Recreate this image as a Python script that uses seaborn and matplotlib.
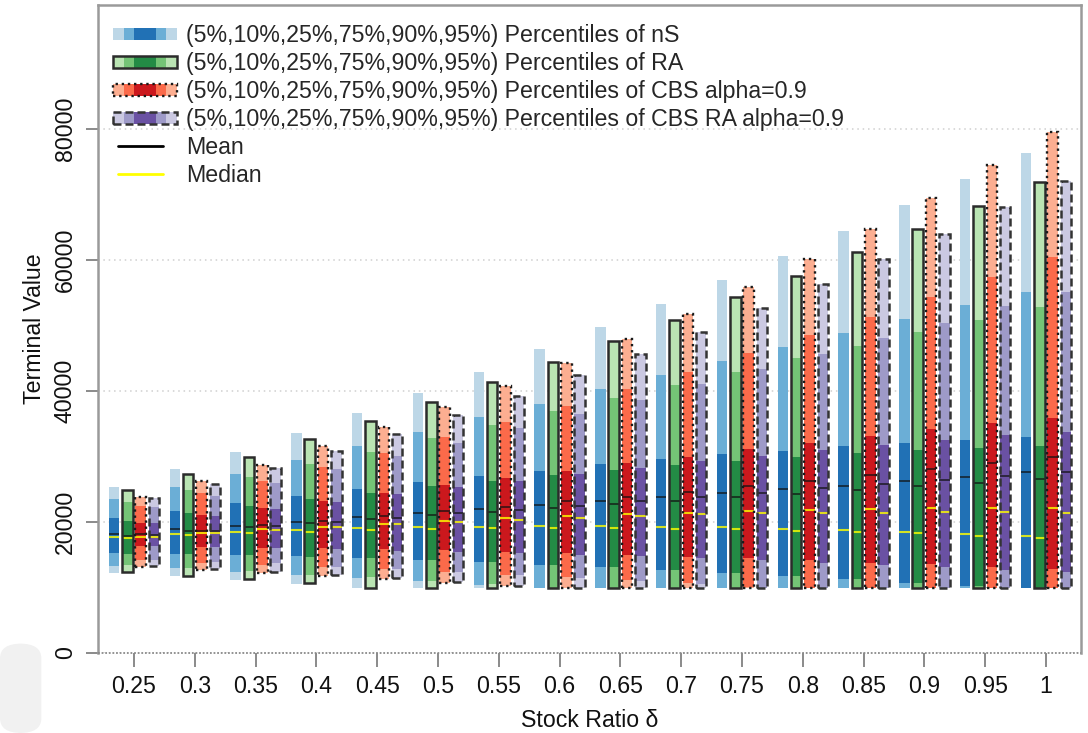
import numpy as np
import pandas as pd
import seaborn as sns
import matplotlib
matplotlib.use("Agg")
import matplotlib.pyplot as plt
from matplotlib.patches import Rectangle, FancyBboxPatch
from matplotlib.lines import Line2D
from matplotlib.legend_handler import HandlerBase

# ---------------------------------------------------------------- data
delta_labels = ["0.25", "0.3", "0.35", "0.4", "0.45", "0.5", "0.55", "0.6",
                "0.65", "0.7", "0.75", "0.8", "0.85", "0.9", "0.95", "1"]

# nS
ns_p95 = [25390, 28040, 30740, 33640, 36590, 39740, 42950, 46360, 49820, 53280, 56950, 60660, 64470, 68350, 72320, 76380]
ns_p90 = [23460, 25390, 27330, 29460, 31650, 33790, 35980, 38010, 40250, 42440, 44580, 46770, 48900, 50990, 53130, 55160]
ns_p75 = [20560, 21730, 22850, 23970, 25040, 26060, 27070, 27830, 28810, 29620, 30330, 30890, 31600, 32110, 32520, 33030]
ns_p25 = [15220, 15110, 14960, 14810, 14500, 14200, 13840, 13430, 13080, 12670, 12160, 11760, 11250, 10730, 10230, 10000]
ns_p10 = [13330, 12930, 12410, 11910, 11400, 10990, 10380, 10000, 10000, 10000, 10000, 10000, 10000, 10000, 10000, 10000]
ns_p5 = [12260, 11760, 11150, 10530, 10000, 10000, 10000, 10000, 10000, 10000, 10000, 10000, 10000, 10000, 10000, 10000]
ns_mean = [18120, 18880, 19440, 20050, 20710, 21420, 21930, 22550, 23210, 23770, 24380, 24990, 25540, 26260, 26920, 27590]
ns_median = [17760, 18120, 18470, 18780, 19030, 19290, 19290, 19390, 19390, 19290, 19190, 18980, 18730, 18520, 18170, 17910]

# RA
ra_p95 = [24840, 27280, 29870, 32620, 35470, 38370, 41420, 44470, 47630, 50840, 54300, 57600, 61170, 64730, 68240, 71860]
ra_p90 = [23000, 24880, 26820, 28810, 30730, 32870, 34810, 36950, 38880, 40920, 42950, 44990, 46870, 48960, 50840, 52770]
ra_p75 = [20200, 21420, 22440, 23460, 24470, 25500, 26310, 27180, 27940, 28650, 29310, 29870, 30490, 30990, 31340, 31650]
ra_p25 = [15110, 15060, 14960, 14700, 14450, 14200, 13840, 13430, 13080, 12670, 12260, 11760, 11250, 10630, 10230, 10000]
ra_p10 = [13390, 12930, 12560, 11910, 11550, 11040, 10530, 10000, 10000, 10000, 10000, 10000, 10000, 10000, 10000, 10000]
ra_p5 = [12320, 11810, 11250, 10630, 10000, 10000, 10000, 10000, 10000, 10000, 10000, 10000, 10000, 10000, 10000, 10000]
ra_mean = [17910, 18620, 19240, 19800, 20410, 21020, 21570, 22090, 22750, 23260, 23770, 24280, 24880, 25500, 26000, 26520]
ra_median = [17510, 17970, 18270, 18520, 18780, 18980, 19080, 19080, 19130, 18980, 18880, 18670, 18420, 18270, 17860, 17600]

# CBS alpha=0.9
cbs_p95 = [23870, 26310, 28700, 31600, 34450, 37610, 40760, 44220, 47890, 51760, 55920, 60150, 64730, 69420, 74500, 79590]
cbs_p90 = [22490, 24390, 26310, 28350, 30580, 33030, 35270, 37760, 40300, 42950, 45750, 48550, 51340, 54400, 57360, 60410]
cbs_p75 = [19900, 21070, 22180, 23250, 24470, 25600, 26670, 27790, 28960, 29970, 31100, 32110, 33130, 34150, 35060, 35930]
cbs_p25 = [16390, 16230, 15980, 15980, 15830, 15720, 15370, 15220, 14960, 14700, 14450, 14200, 13790, 13540, 13180, 12780]
cbs_p10 = [14200, 13790, 13430, 13080, 12780, 12370, 11910, 11550, 11150, 10630, 10130, 10000, 10000, 10000, 10000, 10000]
cbs_p5 = [13180, 12670, 12260, 11760, 11250, 10730, 10280, 10000, 10000, 10000, 10000, 10000, 10000, 10000, 10000, 10000]
cbs_mean = [18120, 18670, 19540, 20200, 20920, 21730, 22340, 23150, 23870, 24630, 25500, 26310, 27180, 28040, 28960, 29870]
cbs_median = [17760, 18270, 18880, 19290, 19690, 20200, 20560, 20920, 21220, 21420, 21680, 21830, 21980, 22090, 22090, 22180]

# CBS RA alpha=0.9
cbsra_p95 = [23620, 25800, 28200, 30840, 33440, 36280, 39290, 42390, 45650, 49010, 52720, 56290, 60100, 63970, 68040, 72120]
cbsra_p90 = [22340, 23970, 26000, 28040, 30080, 32010, 34300, 36430, 38630, 41020, 43360, 45650, 48040, 50430, 52970, 55160]
cbsra_p75 = [19800, 20920, 21980, 23100, 24230, 25290, 26260, 27330, 28300, 29310, 30120, 30990, 31750, 32520, 33280, 33790]
cbsra_p25 = [16390, 16130, 15980, 15830, 15620, 15470, 15220, 14960, 14810, 14450, 14200, 13790, 13430, 13180, 12670, 12320]
cbsra_p10 = [14200, 13890, 13690, 13180, 12780, 12420, 11910, 11450, 10990, 10530, 10000, 10000, 10000, 10000, 10000, 10000]
cbsra_p5 = [13330, 12780, 12410, 11910, 11400, 10840, 10280, 10000, 10000, 10000, 10000, 10000, 10000, 10000, 10000, 10000]
cbsra_mean = [17960, 18670, 19390, 20050, 20560, 21320, 21830, 22490, 23210, 23870, 24480, 25140, 25750, 26410, 27020, 27680]
cbsra_median = [17710, 18270, 18780, 19290, 19690, 20050, 20300, 20660, 20920, 21170, 21320, 21420, 21420, 21570, 21470, 21420]

series_names = ["nS", "RA", "CBS alpha=0.9", "CBS RA alpha=0.9"]
stats = {
    "nS": dict(p5=ns_p5, p10=ns_p10, p25=ns_p25, p75=ns_p75, p90=ns_p90, p95=ns_p95, mean=ns_mean, median=ns_median),
    "RA": dict(p5=ra_p5, p10=ra_p10, p25=ra_p25, p75=ra_p75, p90=ra_p90, p95=ra_p95, mean=ra_mean, median=ra_median),
    "CBS alpha=0.9": dict(p5=cbs_p5, p10=cbs_p10, p25=cbs_p25, p75=cbs_p75, p90=cbs_p90, p95=cbs_p95, mean=cbs_mean, median=cbs_median),
    "CBS RA alpha=0.9": dict(p5=cbsra_p5, p10=cbsra_p10, p25=cbsra_p25, p75=cbsra_p75, p90=cbsra_p90, p95=cbsra_p95, mean=cbsra_mean, median=cbsra_median),
}

rows = []
for s in series_names:
    for i, d in enumerate(delta_labels):
        r = {"delta": d, "series": s}
        for k, v in stats[s].items():
            r[k] = v[i]
        rows.append(r)
df = pd.DataFrame(rows)

# ---------------------------------------------------------------- style
shades = {  # light, mid, dark
    "nS": ["#BDD7E7", "#6BAED6", "#2171B5"],
    "RA": ["#BAE4B3", "#74C476", "#238B45"],
    "CBS alpha=0.9": ["#FCAE91", "#FB6A4A", "#CB181D"],
    "CBS RA alpha=0.9": ["#CBC9E2", "#9E9AC8", "#6A51A3"],
}
outline = {
    "nS": None,
    "RA": dict(ls="-", lw=1.8, ec="#2b2b2b"),
    "CBS alpha=0.9": dict(ls=(0, (1, 1.6)), lw=1.7, ec="#1a1a1a"),
    "CBS RA alpha=0.9": dict(ls=(0, (3.2, 1.6)), lw=1.8, ec="#333333"),
}

sns.set_theme(style="white")
plt.rcParams["font.family"] = ["Liberation Sans", "DejaVu Sans"]
FS = 16.7

fig = plt.figure(figsize=(10.88, 7.33), dpi=100)
ax = fig.add_axes([0.0898, 0.1091, 0.9035, 0.8841])

# painted from the widest band inward; the white layer clears below the 5% mark
layers = [("p95", 0), ("p90", 1), ("p75", 2), ("p25", 1), ("p10", 0), ("p5", None)]
geom = None
for col, shade in layers:
    pal = {s: (shades[s][shade] if shade is not None else "white") for s in series_names}
    sns.barplot(data=df, x="delta", y=col, hue="series", hue_order=series_names,
                order=delta_labels, palette=pal, saturation=1, width=0.876, gap=0.21,
                errorbar=None, legend=False, linewidth=0, ax=ax, zorder=2)
    if geom is None:
        geom = {}
        for s, cont in zip(series_names, ax.containers):
            geom[s] = [(p.get_x(), p.get_width()) for p in cont.patches]

for s in series_names:
    st = stats[s]
    for i, (x, w) in enumerate(geom[s]):
        if outline[s] is not None:
            o = outline[s]
            ax.add_patch(Rectangle((x, st["p5"][i]), w, st["p95"][i] - st["p5"][i],
                                   fill=False, ec=o["ec"], lw=o["lw"], ls=o["ls"], zorder=4))
        ax.hlines(st["mean"][i], x, x + w, color="#111111", lw=1.2, alpha=0.8, zorder=3)
        ax.hlines(st["median"][i], x, x + w, color="#ffff00", lw=1.5, alpha=0.8, zorder=3)

# ---------------------------------------------------------------- axes
ax.set_xlim(-0.597, 15.571)
ax.set_ylim(0, 98930)
ax.set_yticks([0, 20000, 40000, 60000, 80000])
ax.set_yticklabels(["0", "20000", "40000", "60000", "80000"])
ax.grid(axis="y", ls=(0, (1, 2.5)), color="#cfcfcf", lw=1.1)
ax.grid(axis="x", visible=False)
ax.set_axisbelow(True)
ax.axhline(0, ls=(0, (1, 1)), color="#8a8a8a", lw=1.3, zorder=5, clip_on=False)

for side in ["left", "top", "right"]:
    ax.spines[side].set_color("#9a9a9a")
    ax.spines[side].set_linewidth(1.8)
ax.spines["bottom"].set_visible(False)

ax.tick_params(axis="y", which="major", left=True, length=9, width=1.4, color="#8a8a8a",
               labelsize=FS, labelcolor="#111111", pad=6, labelrotation=90)
ax.tick_params(axis="x", which="major", bottom=True, length=10, width=1.4, color="#8a8a8a",
               labelsize=FS, labelcolor="#111111", pad=6)
for lab in ax.get_yticklabels():
    lab.set_va("center")

ax.set_ylabel("Terminal Value", fontsize=FS, color="#111111")
ax.set_xlabel("Stock Ratio δ", fontsize=FS, color="#111111")
ax.yaxis.set_label_coords(-0.053, 0.5)
ax.xaxis.set_label_coords(0.5, -0.087)

# ---------------------------------------------------------------- legend
class BandHandler(HandlerBase):
    def __init__(self, colors, style):
        super().__init__()
        self.colors = colors
        self.style = style

    def create_artists(self, legend, orig_handle, xdescent, ydescent, width, height, fontsize, trans):
        light, mid, dark = self.colors
        seq = [(light, 1), (mid, 1), (dark, 2), (mid, 1), (light, 1)]
        unit = width / 6.0
        x0, y0 = -xdescent, -ydescent + height * 0.05
        h = height * 0.9
        arts = []
        x = x0
        for c, n in seq:
            arts.append(Rectangle((x, y0), unit * n, h, fc=c, ec="none", transform=trans))
            x += unit * n
        if self.style is not None:
            arts.append(Rectangle((x0, y0), width, h, fill=False, ec=self.style["ec"],
                                  lw=self.style["lw"], ls=self.style["ls"], transform=trans))
        return arts


class ShortLineHandler(HandlerBase):
    def __init__(self, color):
        super().__init__()
        self.color = color

    def create_artists(self, legend, orig_handle, xdescent, ydescent, width, height, fontsize, trans):
        y = -ydescent + height / 2
        return [Line2D([-xdescent + 0.07 * width, -xdescent + 0.78 * width], [y, y],
                       color=self.color, lw=2, transform=trans)]


handles, labels, hmap = [], [], {}
for s in series_names:
    h = Rectangle((0, 0), 1, 1)
    handles.append(h)
    labels.append(f"(5%,10%,25%,75%,90%,95%) Percentiles of {s}")
    hmap[h] = BandHandler(shades[s], outline[s])
for name, c in [("Mean", "#000000"), ("Median", "#ffff00")]:
    h = Line2D([], [])
    handles.append(h)
    labels.append(name)
    hmap[h] = ShortLineHandler(c)

ax.legend(handles, labels, handler_map=hmap, loc="upper left",
          bbox_to_anchor=(0.0156, 0.970), frameon=False, fontsize=FS,
          handlelength=2.75, handleheight=0.48, handletextpad=0.38,
          labelspacing=0.21, borderpad=0, borderaxespad=0)

# faint corner mark at the lower left of the canvas
fig.patches.append(FancyBboxPatch((0, 0), 0.038, 0.122, boxstyle="round,pad=0,rounding_size=0.02",
                                  transform=fig.transFigure, fc="#f1f1f1", ec="none", zorder=0))

fig.savefig("out.png", dpi=100)
